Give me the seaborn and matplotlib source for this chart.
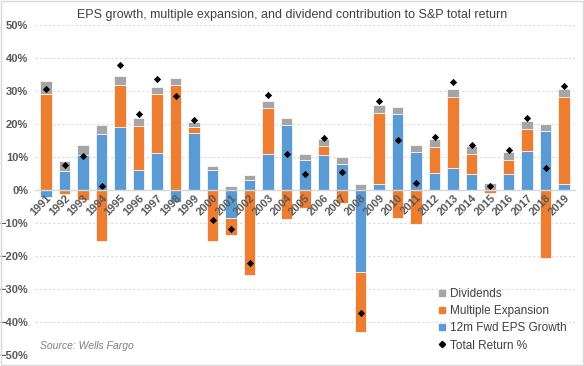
"""Stacked contribution bars (EPS growth, multiple expansion, dividends) vs S&P total return."""
import numpy as np
import matplotlib
matplotlib.use("Agg")
import matplotlib.pyplot as plt
from matplotlib.lines import Line2D
from matplotlib.patches import Rectangle
from matplotlib.ticker import PercentFormatter
import seaborn as sns

YEARS = [str(y) for y in range(1991, 2020)]
EPS_GROWTH = [-2.2, 5.6, 10.5, 16.9, 19.0, 6.0, 11.1, -3.8, 17.2, 5.9,
              -8.6, 3.1, 10.9, 19.7, 9.0, 10.5, 7.8, -24.9, 1.9, 23.0,
              11.4, 5.2, 6.6, 4.7, 0.0, 4.7, 11.9, 17.9, 1.7]
MULTIPLE_EXP = [29.1, -1.2, -3.1, -15.6, 12.7, 13.4, 17.9, 31.9, 1.8, -15.4,
                -5.0, -25.8, 13.9, -8.8, -5.6, 2.8, -4.0, -18.2, 21.3, -8.4,
                -10.3, 7.7, 21.5, 6.1, -0.9, 4.5, 6.7, -20.5, 26.6]
DIVIDENDS = [3.9, 3.1, 3.1, 2.9, 2.9, 2.3, 2.2, 1.9, 1.5, 1.3,
             1.2, 1.5, 2.0, 2.0, 2.0, 2.0, 2.2, 1.7, 2.4, 2.0,
             2.2, 2.6, 2.4, 2.4, 2.1, 2.3, 2.2, 2.0, 2.4]
TOTAL_RETURN = [30.6, 7.7, 10.2, 1.3, 37.8, 23.1, 33.5, 28.6, 21.2, -9.1,
                -11.8, -22.1, 28.7, 10.8, 4.9, 15.8, 5.4, -37.3, 26.8, 15.1,
                2.0, 16.1, 32.6, 13.6, 1.3, 12.0, 21.9, 6.7, 31.6]
Y_TICKS = list(range(-50, 51, 10))

BLUE, ORANGE, GRAY = "#5B9BD5", "#ED7D31", "#A5A5A5"
TEXT = "#595959"
GRID = "#D9D9D9"

sns.set_style("white")
plt.rcParams["font.family"] = ["Liberation Sans", "DejaVu Sans"]

eps = np.array(EPS_GROWTH)
mult = np.array(MULTIPLE_EXP)
# Excel-style stacking: positives pile up from zero, negatives pile down
mult_bottom = np.where(mult >= 0, np.maximum(eps, 0), np.minimum(eps, 0))
div_bottom = np.maximum(eps, 0) + np.maximum(mult, 0)

fig = plt.figure(figsize=(5.84, 3.66), dpi=100)
ax = fig.add_axes([0.06, 0.030, 0.925, 0.902])

# dotted gridlines kept underneath the bars
for y in Y_TICKS:
    if y != 0:
        ax.axhline(y, color=GRID, linestyle=(0, (2, 2)), linewidth=0.8, zorder=0)

bar_kw = dict(width=0.62, errorbar=None, edgecolor="white", linewidth=0.5,
              saturation=1, zorder=1, ax=ax)
sns.barplot(x=YEARS, y=EPS_GROWTH, color=BLUE, **bar_kw)
sns.barplot(x=YEARS, y=MULTIPLE_EXP, bottom=mult_bottom, color=ORANGE, **bar_kw)
sns.barplot(x=YEARS, y=DIVIDENDS, bottom=div_bottom, color=GRAY, **bar_kw)
sns.pointplot(x=YEARS, y=TOTAL_RETURN, color="black", linestyle="none", marker="D",
              markersize=3.2, markeredgewidth=0.5, errorbar=None, ax=ax)

ax.set_ylim(-50, 50)
ax.set_xlim(-0.6, 28.6)
ax.set_yticks(Y_TICKS)
ax.yaxis.set_major_formatter(PercentFormatter(decimals=0))
ax.grid(False)
ax.set_axisbelow(False)  # year labels sit on top of the negative bars
ax.set_xlabel("")
ax.set_ylabel("")

for side in ["top", "right", "left"]:
    ax.spines[side].set_visible(False)
ax.spines["bottom"].set_position(("data", 0))
ax.spines["bottom"].set_color(GRID)
ax.spines["bottom"].set_linewidth(1)

ax.set_xticks(range(len(YEARS)))
ax.set_xticklabels(YEARS, rotation=45, ha="right", rotation_mode="anchor",
                   fontsize=8, fontweight="bold", color=TEXT)
ax.set_xticks(np.arange(-0.5, len(YEARS), 1), minor=True)
ax.tick_params(axis="x", which="major", length=0, pad=2)
ax.tick_params(axis="x", which="minor", length=4, direction="inout", color=GRID)
ax.tick_params(axis="y", length=0, pad=5, labelsize=8, labelcolor=TEXT)
for lbl in ax.get_yticklabels():
    lbl.set_fontweight("bold")

handles = [
    Line2D([], [], marker="s", linestyle="none", color=GRAY, markersize=5),
    Line2D([], [], marker="s", linestyle="none", color=ORANGE, markersize=5),
    Line2D([], [], marker="s", linestyle="none", color=BLUE, markersize=5),
    Line2D([], [], marker="D", linestyle="none", color="black", markersize=3.2),
]
labels = ["Dividends", "Multiple Expansion", "12m Fwd EPS Growth", "Total Return %"]
leg = fig.legend(handles, labels, loc="upper left", bbox_to_anchor=(0.75, 0.214),
                 frameon=False, fontsize=8.5, handlelength=0.6, handletextpad=0.4,
                 labelspacing=0.45, borderpad=0, borderaxespad=0)
for t in leg.get_texts():
    t.set_color("#404040")

fig.text(0.5, 0.959, "EPS growth, multiple expansion, and dividend contribution to S&P total return",
         ha="center", va="center", fontsize=9, color="#404040")
fig.text(0.068, 0.055, "Source: Wells Fargo", ha="left", va="center",
         fontsize=7.5, style="italic", color="#7F7F7F")
fig.patches.append(Rectangle((0.001, 0.002), 0.997, 0.996, transform=fig.transFigure,
                             fill=False, edgecolor=GRID, linewidth=1))

fig.savefig("out.png", dpi=100)
